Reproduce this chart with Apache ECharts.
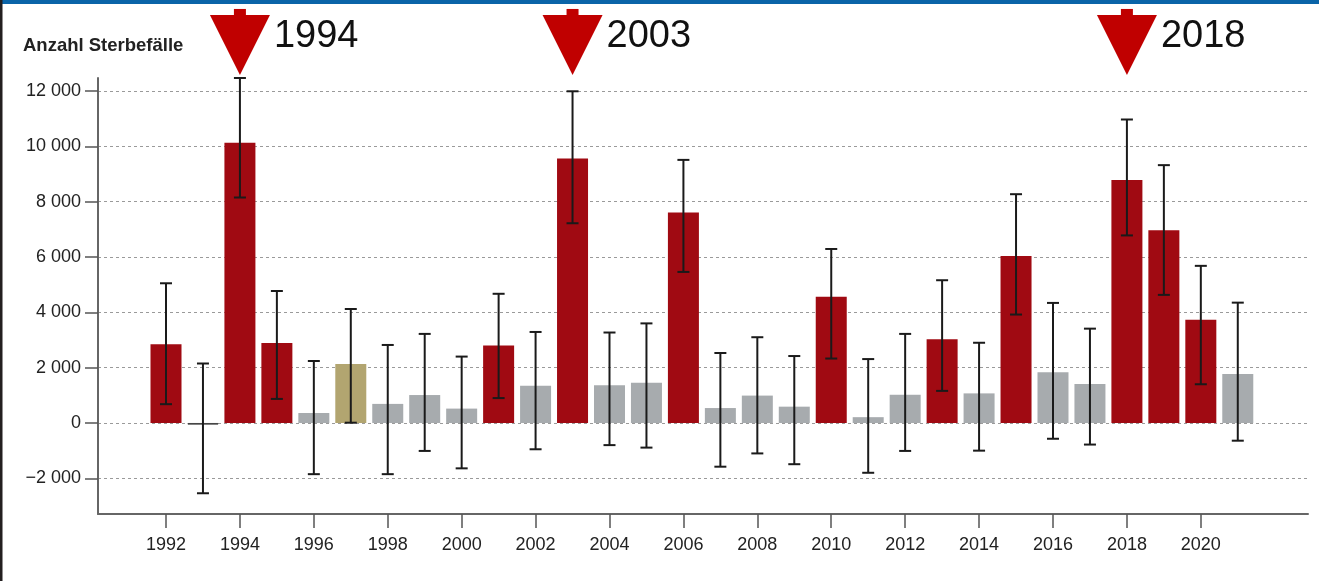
<!DOCTYPE html>
<html><head><meta charset="utf-8">
<script src="https://cdn.jsdelivr.net/npm/echarts@6/dist/echarts.min.js"></script>
<style>html,body{margin:0;padding:0;background:#fff}#c{width:1319px;height:581px}</style>
</head><body><div id="c"></div>
<script>
const years  = [1992,1993,1994,1995,1996,1997,1998,1999,2000,2001,2002,2003,2004,2005,2006,2007,2008,2009,2010,2011,2012,2013,2014,2015,2016,2017,2018,2019,2020,2021];
const values = [2850,-60,10130,2890,360,2130,690,1010,520,2800,1350,9560,1360,1450,7610,540,990,590,4560,210,1020,3030,1070,6040,1830,1410,8780,6970,3730,1770];
const upper  = [5050,2150,12470,4770,2240,4120,2820,3220,2400,4670,3290,11990,3270,3600,9510,2530,3100,2420,6290,2310,3220,5160,2900,8270,4340,3410,10970,9320,5680,4350];
const lower  = [680,-2540,8150,870,-1850,10,-1850,-1010,-1640,900,-950,7220,-800,-890,5460,-1580,-1100,-1490,2330,-1800,-1010,1160,-1000,3920,-570,-780,6780,4630,1400,-640];
const groups = ['hot','zero','hot','hot','normal','warm','normal','normal','normal','hot','normal','hot','normal','normal','hot','normal','normal','normal','hot','normal','normal','hot','normal','hot','normal','normal','hot','hot','hot','normal'];
const yTicks = [-2000,0,2000,4000,6000,8000,10000,12000];
const xTicks = [1992,1994,1996,1998,2000,2002,2004,2006,2008,2010,2012,2014,2016,2018,2020];
const markedYears = [1994,2003,2018];
const markerTip = 12580;
const yTitle = 'Anzahl Sterbefälle';

const colors = {hot:'#A00A12', normal:'#A7ABAE', warm:'#B2A570', zero:'#A7ABAE'};
const FONT = '"Liberation Sans", Arial, Helvetica, sans-serif';

function fmtY(v){
  const s = String(Math.abs(v)).replace(/\B(?=(\d{3})+(?!\d))/g, ' ');
  return (v < 0 ? '\u2212' : '') + s;
}

const barData = years.map((y,i) => ({
  value: [y, values[i]],
  itemStyle: groups[i] === 'zero'
    ? {color: colors.zero, borderColor: '#444', borderWidth: 1}
    : {color: colors[groups[i]]}
}));
const errData = years.map((y,i) => [y, upper[i], lower[i]]);
const markData = markedYears.map(y => [y, markerTip]);

const chart = echarts.init(document.getElementById('c'), null, {renderer:'canvas'});
chart.setOption({
  animation: false,
  backgroundColor: '#fff',
  textStyle: {fontFamily: FONT},
  grid: {left: 98, right: 11, top: 78, bottom: 67, containLabel: false},
  graphic: [
    {type:'rect', left:0, top:0, shape:{width:1319, height:4}, style:{fill:'#0A64A8'}, z:100},
    {type:'rect', left:0, top:0, shape:{width:2.5, height:581}, style:{fill:'#231F20'}, z:100},
    {type:'text', left:23, top:36, style:{text:yTitle, font:'bold 18.5px ' + FONT, fill:'#222'}, z:100}
  ],
  xAxis: {
    type: 'value', min: 1990.16, max: 2022.9,
    axisLine: {show:true, onZero:false, lineStyle:{color:'#666', width:2}},
    axisTick: {show:true, length:14, customValues: xTicks, lineStyle:{color:'#555', width:1.5}},
    axisLabel: {customValues: xTicks, formatter: v => String(v), margin: 22, fontSize: 18, color:'#222', fontFamily: FONT},
    splitLine: {show:false}
  },
  yAxis: {
    type: 'value', min: -3290, max: 12470,
    axisLine: {show:true, onZero:false, lineStyle:{color:'#666', width:2}},
    axisTick: {show:true, length:13, customValues: yTicks, lineStyle:{color:'#555', width:1.5}},
    axisLabel: {customValues: yTicks, formatter: fmtY, margin: 17, fontSize: 18, color:'#222', fontFamily: FONT},
    splitLine: {show:true, lineStyle:{color:'#9a9a9a', width:1, type:[3,3]}}
  },
  series: [
    {type:'bar', data: barData, barWidth: 31, z: 2},
    {
      type:'custom', data: errData, z: 3, clip: false,
      encode: {x: 0, y: [1, 2]},
      renderItem(params, api){
        const x = api.value(0);
        const p1 = api.coord([x, api.value(1)]);
        const p2 = api.coord([x, api.value(2)]);
        const cw = 6;
        const st = {stroke:'#1a1a1a', lineWidth:2};
        return {type:'group', children:[
          {type:'line', shape:{x1:p1[0], y1:p1[1], x2:p2[0], y2:p2[1]}, style:st},
          {type:'line', shape:{x1:p1[0]-cw, y1:p1[1], x2:p1[0]+cw, y2:p1[1]}, style:st},
          {type:'line', shape:{x1:p2[0]-cw, y1:p2[1], x2:p2[0]+cw, y2:p2[1]}, style:st}
        ]};
      }
    },
    {
      type:'custom', data: markData, z: 4, clip: false,
      encode: {x: 0, y: 1},
      renderItem(params, api){
        const yr = api.value(0);
        const p = api.coord([yr, api.value(1)]);
        const tx = p[0], ty = p[1];
        return {type:'group', children:[
          {type:'polygon', shape:{points:[[tx-30, ty-60],[tx+30, ty-60],[tx, ty]]}, style:{fill:'#C00000'}},
          {type:'rect', shape:{x:tx-6, y:ty-66, width:12, height:7}, style:{fill:'#C00000'}},
          {type:'text', style:{text:String(yr), x:tx+34, y:ty-38, font:'38px ' + FONT, fill:'#111', align:'left', verticalAlign:'middle'}}
        ]};
      }
    }
  ]
});
</script>
</body></html>
